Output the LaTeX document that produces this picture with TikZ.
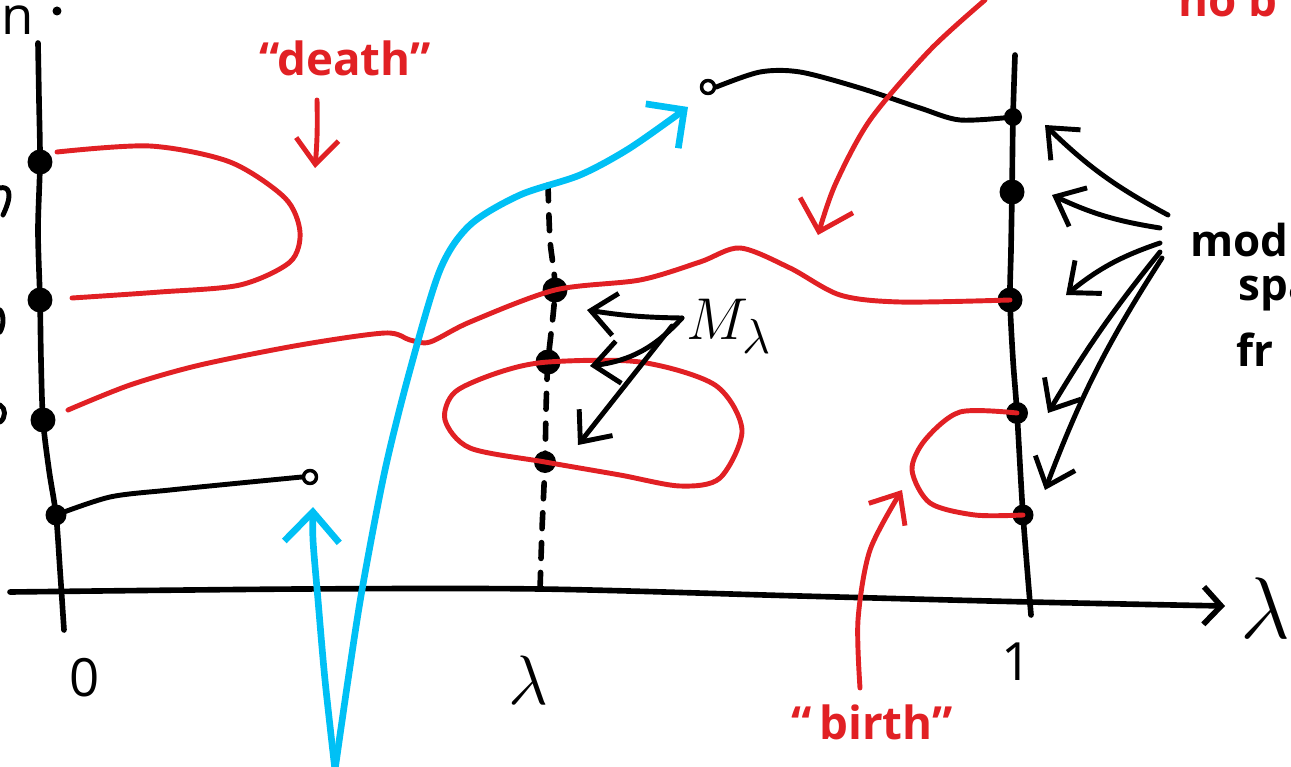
\documentclass[tikz,border=0pt]{standalone}
\usepackage{graphicx}
\usepackage{fontspec}
\setmainfont{Open Sans}
\usetikzlibrary{arrows.meta}
\definecolor{penred}{RGB}{225,32,36}
\definecolor{penblue}{RGB}{0,192,245}
\begin{document}
\begin{tikzpicture}[x=0.02cm,y=-0.02cm, line cap=round, line join=round,
 ink/.style={black,line width=3.2pt},
 thinink/.style={black,line width=2.8pt},
 redink/.style={penred,line width=2.8pt},
 blueink/.style={penblue,line width=3.8pt},
 dot/.style={circle,fill=black,inner sep=0pt,minimum size=#1},
 dot/.default=0.5cm,
 hollow/.style={circle,draw=black,line width=2pt,inner sep=0pt,minimum size=0.26cm,fill=white},
 barb/.style={-{Straight Barb[length=0.5cm,width=0.85cm]}},
 bigbarb/.style={-{Straight Barb[length=0.55cm,width=1.1cm]}},
 lbl/.style={font=\fontsize{26}{30}\bfseries\selectfont, inner sep=0pt},
 mlbl/.style={font=\fontsize{30}{34}\selectfont, inner sep=0pt},
 mathlbl/.style={font=\fontsize{24.88}{28}\selectfont, inner sep=0pt},
 slbl/.style={font=\fontsize{25}{28}\bfseries\selectfont, inner sep=0pt}
]
\useasboundingbox (0,0) rectangle (1291,767);
\clip (0,0) rectangle (1291,767);

% ---- dots (nodes) ----
\node[dot] (L1) at (40,162) {};
\node[dot] (L2) at (40,300) {};
\node[dot] (L3) at (43,420) {};
\node[dot=0.42cm] (L4) at (56,515) {};
\node[dot=0.36cm] (R1) at (1013,117) {};
\node[dot] (R2) at (1012,192) {};
\node[dot] (R3) at (1010,300) {};
\node[dot=0.44cm] (R4) at (1017,413) {};
\node[dot=0.42cm] (R5) at (1023,515) {};
\node[dot] (M1) at (555,290) {};
\node[dot] (M2) at (548,362) {};
\node[dot=0.44cm] (M3) at (545,462) {};

% ---- axes ----
\coordinate (ltop) at (38,43);
\coordinate (lbot) at (64,630);
\draw[ink] plot[smooth] coordinates {(ltop) (39,100) (L1) (38,230) (L2) (41,360) (L3) (49,470) (L4) (60,570) (lbot)};
\coordinate (rtop) at (1015,55);
\coordinate (rbot) at (1031,615);
\draw[ink] plot[smooth] coordinates {(rtop) (R1) (R2) (1011,250) (R3) (1013,360) (R4) (R5) (rbot)};
\coordinate (mtop) at (548,185);
\coordinate (mbot) at (540,590);
\draw[ink, dash pattern=on 9pt off 8pt] plot[smooth] coordinates {(mtop) (550,240) (M1) (M2) (546,410) (M3) (542,530) (mbot)};
\coordinate (hstart) at (10,592);
\coordinate (hend) at (1225,606);
\draw[ink, -{Straight Barb[length=0.35cm,width=0.75cm]}] plot[smooth] coordinates {(hstart) (300,589) (540,589) (800,596) (1030,602) (hend)};

% ---- red curves ----
\draw[redink] plot[smooth] coordinates {(57,152) (150,146) (230,162) (285,198) (300,232) (290,262) (240,285) (160,292) (72,298)};
\draw[redink] plot[smooth] coordinates {(68,410) (130,385) (200,365) (300,345) (385,333) (410,340) (430,342) (470,322) (M1) (640,280) (700,262) (740,248) (790,268) (840,295) (900,302) (R3)};
\draw[redink] plot[smooth cycle] coordinates {(M2) (640,362) (715,385) (742,430) (720,478) (680,486) (620,475) (M3) (470,448) (445,420) (455,392) (500,372)};
\draw[redink] plot[smooth] coordinates {(R4) (960,412) (925,440) (912,470) (930,503) (975,515) (R5)};

% ---- black open-ended curves ----
\node[hollow] (o1) at (310,477) {};
\draw[thinink] plot[smooth] coordinates {(L4) (110,497) (170,490) (240,483) (o1.west)};
\node[hollow] (o2) at (708,87) {};
\draw[thinink] plot[smooth] coordinates {(o2.east) (760,72) (800,72) (860,88) (920,108) (960,120) (R1)};

% ---- blue arrows ----
\coordinate (bstart) at (335,770);
\coordinate (bend1) at (688,107);
\coordinate (bend2) at (313,507);
\draw[blueink, bigbarb] plot[smooth] coordinates {(bstart) (348,680) (362,590) (385,470) (410,370) (440,270) (470,225) (520,195) (580,175) (630,148) (bend1)};
\draw[blueink, -{Straight Barb[length=0.6cm,width=1.1cm]}] plot[smooth] coordinates {(bstart) (325,680) (318,600) (313,540) (bend2)};

% ---- red labels and arrows ----
\node[lbl, text=penred] (death) at (345,58) {``death''};
\coordinate (da) at (317,100);
\coordinate (db) at (315,168);
\draw[redink, barb] (da) to[bend left=3] (db);
\node[lbl, text=penred] (birth) at (872,722) {``\,birth''};
\coordinate (ba) at (860,688);
\coordinate (bb) at (902,490);
\draw[redink, barb] plot[smooth] coordinates {(ba) (858,620) (870,550) (bb)};
\node[lbl, text=penred, anchor=west] (nob) at (1178,-1) {no b};
\coordinate (na) at (985,0);
\coordinate (nb) at (818,235);
\draw[redink, bigbarb] plot[smooth] coordinates {(na) (930,50) (870,120) (835,185) (nb)};

% ---- M_lambda ----
\node[mathlbl, scale=1.35, anchor=west] (Ml) at (686,326) {$M_\lambda$};
\coordinate (mA) at (682,318);
\coordinate (mB) at (672,326);
\draw[thinink, barb] (mA) to[bend left=4] (587,310);
\draw[thinink, barb] (mA) to[bend left=20] (590,366);
\draw[thinink, barb] (mB) -- (578,445);

% ---- moduli space label ----
\node[slbl, anchor=west] (mod) at (1190,240) {mod};
\node[slbl, anchor=west] (spa) at (1238,294) {spa};
\node[slbl, anchor=west] (fr) at (1236,350) {fr};
\coordinate (s1) at (1168,215);
\coordinate (s2) at (1160,228);
\coordinate (s3) at (1160,243);
\coordinate (s4) at (1160,252);
\coordinate (s5) at (1162,258);
\draw[thinink, barb] (s1) to[bend left=8] (1045,125);
\draw[thinink, barb] (s2) to[bend left=8] (1052,195);
\draw[thinink, barb] (s3) to[bend left=-10] (1066,295);
\draw[thinink, barb] (s4) to[bend left=-4] (1048,413);
\draw[thinink, barb] (s5) to[bend left=-6] (1045,490);

% ---- axis labels ----
\node[mlbl] (zero) at (85,678) {0};
\node[mathlbl, scale=1.6] (lam) at (528,680) {$\lambda$};
\node[mlbl] (one) at (1017,662) {1};
\node[mathlbl, scale=2.0] (lamaxis) at (1265,608) {$\lambda$};

% ---- fragments at left edge ----
\node[mlbl] (n) at (18,20) {n};
\node[dot=0.18cm] (colon) at (57,11) {};
\draw[thinink] (0,188) .. controls (8,186) and (14,192) .. (3,215);
\draw[thinink] (0,310) .. controls (4,315) and (4,325) .. (0,332);
\draw[thinink] (0,405) .. controls (6,408) and (6,418) .. (0,422);
\end{tikzpicture}
\end{document}
